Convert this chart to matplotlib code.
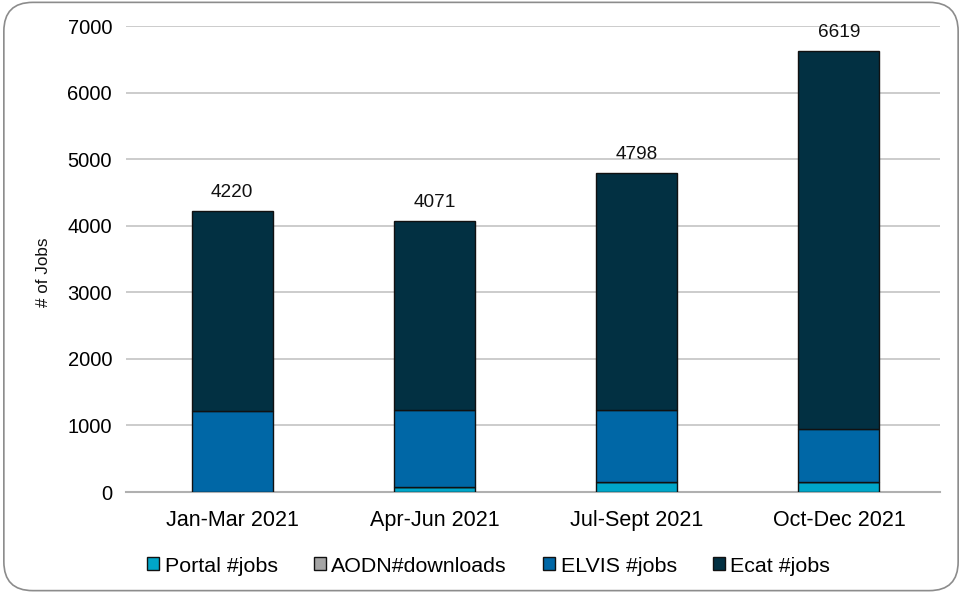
import numpy as np
import matplotlib
matplotlib.use("Agg")
import matplotlib.pyplot as plt
from matplotlib.patches import FancyBboxPatch

plt.rcParams['font.family'] = ['Liberation Sans', 'DejaVu Sans']

# data
quarters = ["Jan-Mar 2021", "Apr-Jun 2021", "Jul-Sept 2021", "Oct-Dec 2021"]
portal = [0, 70, 146, 146]
aodn = [0, 0, 0, 0]
elvis = [1220, 1165, 1089, 798]
ecat = [3000, 2836, 3563, 5675]
totals = [4220, 4071, 4798, 6619]

series = ["Portal #jobs", "AODN#downloads", "ELVIS #jobs", "Ecat #jobs"]
colors = ["#00A6C9", "#A5A5A5", "#0067A6", "#023042"]

fig = plt.figure(figsize=(9.62, 5.93), dpi=100)
ax = fig.add_axes([126 / 962, 1 - 492 / 593, 814 / 962, 466 / 593])

# rounded frame around the whole chart
frame = FancyBboxPatch((0.004, 0.004), 0.992, 0.992,
                       boxstyle="round,pad=0,rounding_size=0.03",
                       transform=fig.transFigure, facecolor="none",
                       edgecolor="#8C8C8C", linewidth=1.2,
                       mutation_aspect=962 / 593)
fig.patches.append(frame)

x = np.arange(len(quarters))
bottom = np.zeros(len(quarters))
for vals, name, c in zip([portal, aodn, elvis, ecat], series, colors):
    ax.bar(x, vals, 0.4, bottom=bottom, color=c, edgecolor="#111111",
           linewidth=1.0, label=name, zorder=3)
    bottom += np.array(vals)

# totals above bars
for xi, t in zip(x, totals):
    ax.text(xi, t + 150, str(t), ha="center", va="bottom", fontsize=13.7,
            color="#111111")

ax.set_xlim(-0.525, 3.5)
ax.set_ylim(0, 7000)
ax.set_yticks(range(0, 7001, 1000))
ax.set_xticks(x)
ax.set_xticklabels(quarters, fontsize=15.5)
ax.tick_params(axis="y", labelsize=14.5, length=0, pad=10)
ax.tick_params(axis="x", length=0, pad=13)
ax.yaxis.grid(True, color="#C8C8C8", linewidth=1.3, zorder=0)
ax.set_axisbelow(True)
for s in ["top", "right", "left"]:
    ax.spines[s].set_visible(False)
ax.spines["bottom"].set_color("#B0B0B0")
ax.spines["bottom"].set_linewidth(1.5)
fig.text(43 / 962, 1 - 272 / 593, "# of Jobs", rotation=90, fontsize=12.3,
         ha="center", va="center", color="#111111")

fig.legend(loc="center", bbox_to_anchor=(0.508, 1 - 566 / 593), ncol=4,
           frameon=False, fontsize=15.4, handlelength=0.56, handleheight=0.56,
           handletextpad=0.25, columnspacing=1.7)

fig.savefig("out.png", dpi=100)
